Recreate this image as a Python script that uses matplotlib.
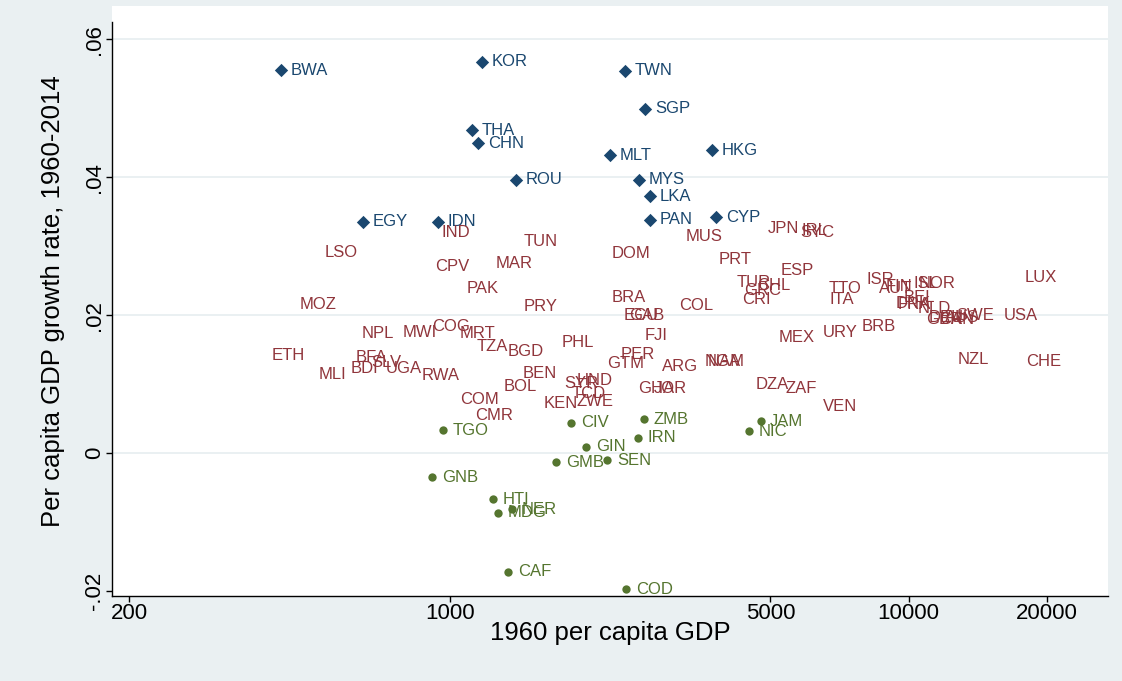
import matplotlib.pyplot as plt
from matplotlib.ticker import FixedLocator, NullLocator


# fast growers (navy diamonds)
fast_codes = ["BWA", "KOR", "TWN", "SGP", "THA", "CHN", "MLT", "HKG",
              "ROU", "MYS", "LKA", "EGY", "IDN", "PAN", "CYP"]
fast_gdp = [429, 1176, 2411, 2666, 1118, 1152, 2236, 3730,
            1395, 2586, 2733, 647, 943, 2733, 3805]
fast_growth = [0.0555, 0.0567, 0.0554, 0.0499, 0.0468, 0.0449, 0.0432, 0.0439,
               0.0396, 0.0396, 0.0372, 0.0335, 0.0335, 0.0338, 0.0342]

# middle group (labels only)
mid_codes = ["IND", "TUN", "LSO", "DOM", "MUS", "JPN", "SYC", "IRL", "CPV", "MAR",
             "PRT", "ESP", "PAK", "TUR", "CHL", "GRC", "CRI", "TTO", "ITA", "ISR",
             "AUT", "FIN", "ISL", "NOR", "LUX", "MOZ", "BRA", "COL", "PRY", "BEL",
             "DNK", "FRA", "NLD", "ECU", "GAB", "GBR", "DEU", "CAN", "AUS", "SWE",
             "USA", "BRB", "URY", "MEX", "FJI", "NPL", "MWI", "COG", "MRT", "PHL",
             "TZA", "BGD", "PER", "GTM", "ARG", "NGA", "NAM", "ETH", "BFA", "SLV",
             "BDI", "UGA", "MLI", "RWA", "BEN", "NZL", "CHE", "HND", "SYR", "DZA",
             "ZAF", "GHA", "JOR", "BOL", "TCD", "ZWE", "KEN", "COM", "VEN", "CMR"]
mid_gdp = [915, 1381, 509, 2147, 3113, 4699, 5520, 5573, 884, 1200,
           3675, 5017, 1037, 4021, 4446, 4165, 4124, 6381, 6413, 7721,
           8200, 8494, 9777, 10025, 17070, 449, 2147, 3006, 1381, 9299,
           8933, 9022, 9975, 2281, 2339, 10382, 10541, 11085, 11424, 12069,
           15360, 7531, 6191, 4966, 2535, 612, 752, 870, 1001, 1671,
           1091, 1274, 2247, 2094, 2760, 3424, 3477, 390, 594, 641,
           580, 691, 494, 828, 1374, 12193, 17156, 1802, 1696, 4424,
           5144, 2447, 2652, 1249, 1757, 1802, 1527, 1001, 6191, 1080]
mid_growth = [0.0320, 0.0307, 0.0291, 0.0290, 0.0314, 0.0326, 0.0320, 0.0323, 0.0271, 0.0275,
              0.0280, 0.0265, 0.0239, 0.0248, 0.0243, 0.0236, 0.0222, 0.0239, 0.0222, 0.0251,
              0.0239, 0.0241, 0.0246, 0.0246, 0.0255, 0.0216, 0.0226, 0.0214, 0.0213, 0.0225,
              0.0217, 0.0216, 0.0209, 0.0200, 0.0200, 0.0193, 0.0196, 0.0193, 0.0196, 0.0200,
              0.0200, 0.0183, 0.0175, 0.0168, 0.0171, 0.0174, 0.0175, 0.0183, 0.0174, 0.0161,
              0.0155, 0.0148, 0.0143, 0.0130, 0.0125, 0.0133, 0.0133, 0.0141, 0.0139, 0.0132,
              0.0122, 0.0123, 0.0114, 0.0113, 0.0116, 0.0135, 0.0133, 0.0106, 0.0101, 0.0100,
              0.0094, 0.0094, 0.0094, 0.0096, 0.0087, 0.0075, 0.0072, 0.0078, 0.0068, 0.0054]

# slow growers (green dots)
slow_codes = ["TGO", "CIV", "ZMB", "JAM", "NIC", "IRN", "GIN", "GMB",
              "SEN", "GNB", "HTI", "NER", "MDG", "CAF", "COD"]
slow_gdp = [967, 1838, 2652, 4757, 4492, 2573, 1982, 1705,
            2202, 915, 1243, 1367, 1274, 1340, 2423]
slow_growth = [0.0033, 0.0044, 0.0049, 0.0046, 0.0032, 0.0022, 0.0009, -0.0013,
               -0.0010, -0.0035, -0.0067, -0.0081, -0.0086, -0.0172, -0.0197]

x_ticks = [200, 1000, 5000, 10000, 20000]
y_ticks = [-0.02, 0, 0.02, 0.04, 0.06]
y_tick_labels = ["-.02", "0", ".02", ".04", ".06"]

NAVY = "#1a476f"
MAROON = "#90353b"
GREEN = "#55752f"
BG = "#eaf0f2"

plt.rcParams["font.family"] = ["Liberation Sans", "DejaVu Sans"]

fig = plt.figure(figsize=(11.22, 6.81), dpi=100, facecolor=BG)
# plot region in figure pixels: left 112, right 1108, top 6, bottom 596
ax = fig.add_axes([112 / 1122, 1 - 596 / 681, (1108 - 112) / 1122, (596 - 6) / 681])
ax.set_facecolor("white")

ax.set_xscale("log")
ax.set_xlim(183.6, 27200)
ax.set_ylim(-0.0207, 0.0648)

for yv in [0, 0.02, 0.04, 0.06]:
    ax.axhline(yv, color="#e6edf0", lw=1.2, zorder=0)

ax.scatter(fast_gdp, fast_growth, marker="D", s=46, color=NAVY, zorder=3, linewidths=0)
ax.scatter(slow_gdp, slow_growth, marker="o", s=36, color=GREEN, zorder=3, linewidths=0)

label_font = dict(fontsize=12, va="center", ha="left", textcoords="offset points", xytext=(7, 0))
for code, gx, gy in zip(fast_codes, fast_gdp, fast_growth):
    ax.annotate(code, (gx, gy), color=NAVY, **label_font)
for code, gx, gy in zip(mid_codes, mid_gdp, mid_growth):
    ax.annotate(code, (gx, gy), color=MAROON, **label_font)
for code, gx, gy in zip(slow_codes, slow_gdp, slow_growth):
    ax.annotate(code, (gx, gy), color=GREEN, **label_font)

ax.xaxis.set_major_locator(FixedLocator(x_ticks))
ax.xaxis.set_minor_locator(NullLocator())
ax.set_xticklabels([str(t) for t in x_ticks])
ax.set_yticks(y_ticks)
ax.set_yticklabels(y_tick_labels, rotation=90, va="center")

ax.tick_params(axis="both", direction="out", length=4, width=1, labelsize=16, colors="black", pad=1)
for side in ["top", "right"]:
    ax.spines[side].set_visible(False)
for side in ["left", "bottom"]:
    ax.spines[side].set_color("black")
    ax.spines[side].set_linewidth(1)
ax.spines["left"].set_bounds(-0.0207, 0.0625)

ax.set_xlabel("1960 per capita GDP", fontsize=18.5, labelpad=-2)
ax.set_ylabel("Per capita GDP growth rate, 1960-2014", fontsize=18.5, labelpad=14)

fig.savefig("out.png", dpi=100, facecolor=BG)
